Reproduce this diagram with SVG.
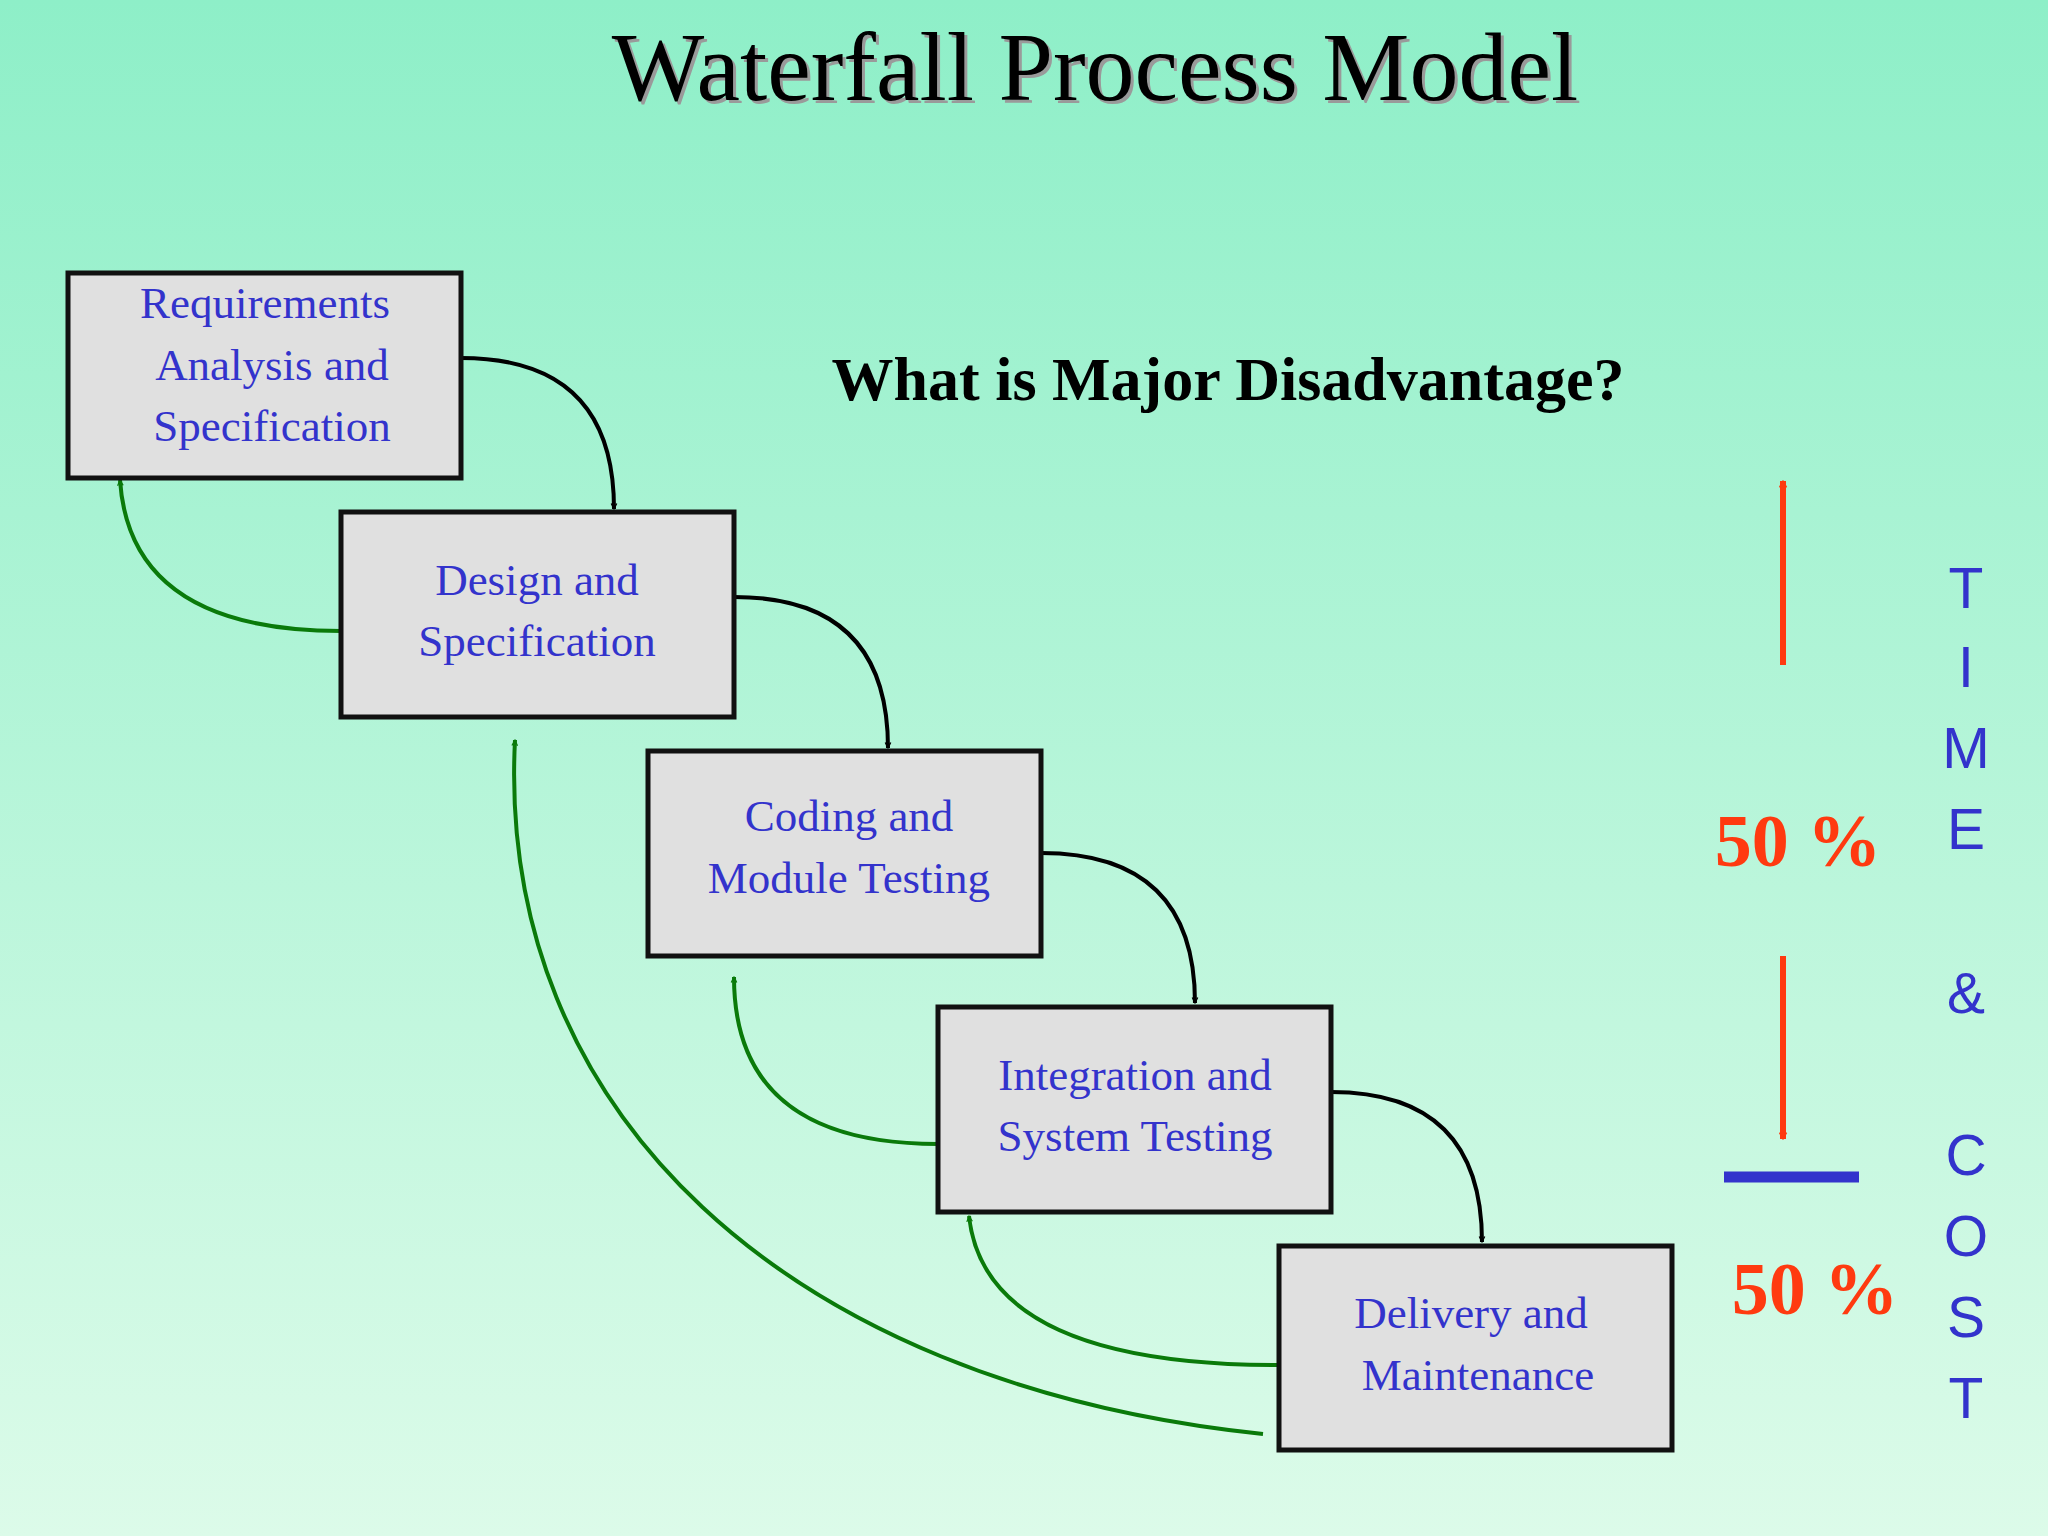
<svg xmlns="http://www.w3.org/2000/svg" width="2048" height="1536" viewBox="0 0 2048 1536">
<defs>
<linearGradient id="bg" x1="0" y1="0" x2="0" y2="1"><stop offset="0" stop-color="#8eefc8"/><stop offset="1" stop-color="#dcfbe9"/></linearGradient>
<marker id="ab" viewBox="0 0 20 20" refX="17" refY="10" markerWidth="8" markerHeight="8" orient="auto" markerUnits="userSpaceOnUse"><path d="M3,3 L17,10 L3,17" fill="none" stroke="#000" stroke-width="3"/></marker>
<marker id="ag" viewBox="0 0 20 20" refX="17" refY="10" markerWidth="8" markerHeight="8" orient="auto" markerUnits="userSpaceOnUse"><path d="M3,3 L17,10 L3,17" fill="none" stroke="#0a7a0a" stroke-width="3"/></marker>
<marker id="ar" viewBox="0 0 20 20" refX="17" refY="10" markerWidth="9" markerHeight="9" orient="auto" markerUnits="userSpaceOnUse"><path d="M3,2 L17,10 L3,18" fill="none" stroke="#ff3a10" stroke-width="3"/></marker>
</defs>
<style>
.box{fill:#e0e0e0;stroke:#111;stroke-width:5}
.bt{font-family:"Liberation Serif",serif;font-size:45px;fill:#3333cc;text-anchor:middle}
.blk{fill:none;stroke:#000;stroke-width:4;marker-end:url(#ab)}
.grn{fill:none;stroke:#0a7a0a;stroke-width:4;marker-end:url(#ag)}
.red{stroke:#ff3a10;stroke-width:6;marker-end:url(#ar)}
.pct{font-family:"Liberation Serif",serif;font-weight:bold;font-size:74px;fill:#ff3a10;text-anchor:middle}
.v{font-family:"Liberation Sans",sans-serif;font-size:57px;fill:#3333cc;text-anchor:middle}
</style>
<rect width="2048" height="1536" fill="url(#bg)"/>
<text x="1098" y="103" font-family="Liberation Serif,serif" font-size="98" fill="#9a9a9a" text-anchor="middle">Waterfall Process Model</text>
<text x="1095" y="100" font-family="Liberation Serif,serif" font-size="98" fill="#000" text-anchor="middle">Waterfall Process Model</text>
<text x="1228" y="400" font-family="Liberation Serif,serif" font-weight="bold" font-size="62" fill="#000" text-anchor="middle">What is Major Disadvantage?</text>
<g id="connectors">
<path class="blk" d="M461,358 Q614,358 614,509"/>
<path class="blk" d="M734,597 Q888,597 888,748"/>
<path class="blk" d="M1041,853 Q1195,853 1195,1003"/>
<path class="blk" d="M1331,1092 Q1482,1092 1482,1242"/>
<path class="grn" d="M341,631 Q130,631 120,480"/>
<path class="grn" d="M938,1144 Q734,1144 734,977"/>
<path class="grn" d="M1279,1365 Q985,1365 969,1216"/>
<path class="grn" d="M1263,1434 C784,1384 496,1110 515,740"/>
</g>
<g id="n1"><rect class="box" x="68" y="273" width="393" height="205"/><text class="bt" x="265" y="318">Requirements</text><text class="bt" x="272" y="380">Analysis and</text><text class="bt" x="272" y="441">Specification</text></g>
<g id="n2"><rect class="box" x="341" y="512" width="393" height="205"/><text class="bt" x="537" y="595">Design and</text><text class="bt" x="537" y="656">Specification</text></g>
<g id="n3"><rect class="box" x="648" y="751" width="393" height="205"/><text class="bt" x="849" y="831">Coding and</text><text class="bt" x="849" y="893">Module Testing</text></g>
<g id="n4"><rect class="box" x="938" y="1007" width="393" height="205"/><text class="bt" x="1135" y="1090">Integration and</text><text class="bt" x="1135" y="1151">System Testing</text></g>
<g id="n5"><rect class="box" x="1279" y="1246" width="393" height="204"/><text class="bt" x="1471" y="1328">Delivery and</text><text class="bt" x="1478" y="1390">Maintenance</text></g>
<g id="side">
<line class="red" x1="1783" y1="665" x2="1783" y2="481"/>
<line class="red" x1="1783" y1="956" x2="1783" y2="1139"/>
<line x1="1724" y1="1177" x2="1859" y2="1177" stroke="#3333cc" stroke-width="11"/>
<text class="pct" x="1798" y="866">50 %</text>
<text class="pct" x="1815" y="1314">50 %</text>
<text class="v" x="1966" y="608">T</text><text class="v" x="1966" y="687">I</text><text class="v" x="1966" y="768">M</text><text class="v" x="1966" y="849">E</text><text class="v" x="1966" y="1013">&amp;</text><text class="v" x="1966" y="1175">C</text><text class="v" x="1966" y="1256">O</text><text class="v" x="1966" y="1337">S</text><text class="v" x="1966" y="1418">T</text>
</g>
</svg>
